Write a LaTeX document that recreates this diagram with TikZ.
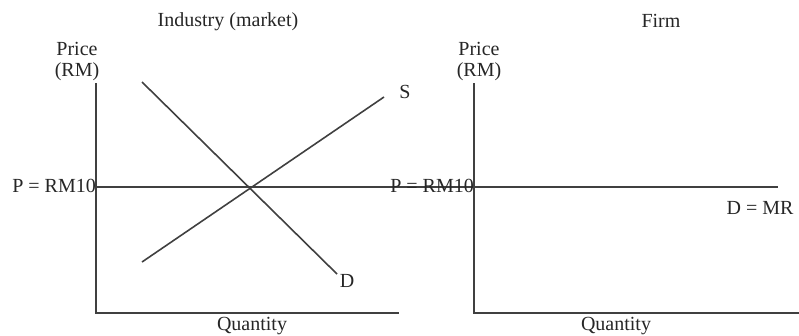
\documentclass[tikz,border=0pt]{standalone}
\usepackage{fontspec}
\setmainfont{Liberation Serif}
\begin{document}
\begin{tikzpicture}[x=1pt,y=-1pt,
  curve/.style={draw=black!75,line width=1.6pt},
  lbl/.style={inner sep=0pt,text=black!85,font=\fontsize{20}{20}\selectfont},
  stack/.style={lbl,align=center,font=\fontsize{20}{21}\selectfont}]
\useasboundingbox (0,0) rectangle (799,335);
% left panel coordinates
\coordinate (LT) at (96,83);
\coordinate (LO) at (96,313);
\coordinate (LX) at (399,313);
\coordinate (LP) at (96,187);
\coordinate (D1) at (142,82);
\coordinate (D2) at (337,274);
\coordinate (S1) at (142,262);
\coordinate (S2) at (384,97);
% right panel coordinates
\coordinate (RT) at (474,83);
\coordinate (RO) at (474,313);
\coordinate (RX) at (799,313);
\coordinate (RP) at (474,187);
\coordinate (RE) at (778,187);
% curves
\draw[curve] (LT) -- (LO) -- (LX);
\draw[curve] (D1) -- (D2);
\draw[curve] (S1) -- (S2);
\draw[curve] (LP) -- (RP) -- (RE);
\draw[curve] (RT) -- (RO) -- (RX);
% labels
\node[lbl] (t1) at (228,22) {Industry (market)};
\node[lbl] (t2) at (661,21) {Firm};
\node[stack] (py1) at (77,62) {Price\\(RM)};
\node[stack] (py2) at (479,62) {Price\\(RM)};
\node[lbl,anchor=east] (p1) at (96,186) {P = RM10};
\node[lbl,anchor=east] (p2) at (474,186) {P = RM10};
\node[lbl] (s) at (405,92) {S};
\node[lbl] (d) at (347,281) {D};
\node[lbl] (dmr) at (760,208) {D = MR};
\node[lbl] (q1) at (252,326) {Quantity};
\node[lbl] (q2) at (616,326) {Quantity};
\end{tikzpicture}
\end{document}
